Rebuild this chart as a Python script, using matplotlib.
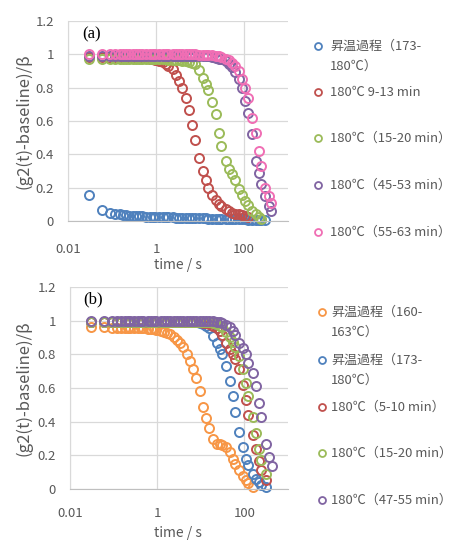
import matplotlib
matplotlib.use("Agg")
import matplotlib.pyplot as plt
from matplotlib.lines import Line2D
from matplotlib.ticker import NullLocator

plt.rcParams['font.family'] = ['Noto Sans CJK JP', 'DejaVu Sans']

# correlator lag times (s), shared by every series; each series uses the first len(y) of them
lag_s = [0.03, 0.06, 0.09, 0.12, 0.15, 0.18, 0.21, 0.24, 0.30, 0.36,
         0.42, 0.48, 0.60, 0.72, 0.84, 0.96, 1.2, 1.44, 1.68, 1.92,
         2.4, 2.88, 3.36, 3.84, 4.8, 5.76, 6.72, 7.68, 9.6, 11.5,
         13.4, 15.4, 19.2, 23.0, 26.9, 30.7, 38.4, 46.1, 53.8, 61.4,
         76.8, 92.2, 108, 123, 154, 184, 215, 246, 307, 369, 420]

x_ticks = [0.01, 1, 100]
x_tick_labels = ['0.01', '1', '100']
y_ticks = [0, 0.2, 0.4, 0.6, 0.8, 1.0, 1.2]
y_tick_labels = ['0', '0.2', '0.4', '0.6', '0.8', '1', '1.2']

# ---- panel (a)
a_labels = ['昇温過程（173-\n180℃）', '180℃ 9-13 min', '180℃（15-20 min）',
            '180℃（45-53 min）', '180℃（55-63 min）']
a_colors = ['#4F81BD', '#C0504D', '#9BBB59', '#8064A2', '#F06EB4']

a_ramp_173 = [0.155, 0.065, 0.05, 0.045, 0.04, 0.037, 0.035, 0.033, 0.031, 0.03,
              0.029, 0.028, 0.027, 0.026, 0.025, 0.025, 0.024, 0.023, 0.023, 0.022,
              0.022, 0.021, 0.02, 0.02, 0.019, 0.018, 0.018, 0.017, 0.017, 0.016,
              0.016, 0.015, 0.015, 0.014, 0.014, 0.013, 0.013, 0.012, 0.012, 0.011,
              0.011, 0.01, 0.01, 0.009, 0.008, 0.007, 0.006, 0.005, 0.004]
a_9_13 = [0.985, 0.985, 0.98, 0.98, 0.98, 0.98, 0.98, 0.98, 0.98, 0.98,
          0.98, 0.978, 0.977, 0.975, 0.972, 0.968, 0.962, 0.955, 0.945, 0.932,
          0.91, 0.875, 0.84, 0.80, 0.74, 0.665, 0.575, 0.485, 0.38, 0.30,
          0.245, 0.20, 0.155, 0.128, 0.105, 0.088, 0.07, 0.058, 0.05, 0.045,
          0.04, 0.035, 0.03, 0.027]
a_15_20 = [0.975, 0.975, 0.97, 0.97, 0.97, 0.97, 0.97, 0.97, 0.97, 0.97,
           0.97, 0.97, 0.97, 0.97, 0.97, 0.97, 0.97, 0.97, 0.97, 0.968,
           0.967, 0.966, 0.964, 0.962, 0.958, 0.953, 0.948, 0.94, 0.905, 0.86,
           0.82, 0.785, 0.715, 0.64, 0.53, 0.45, 0.36, 0.31, 0.28, 0.245,
           0.195, 0.155, 0.12, 0.095, 0.062, 0.04, 0.022, 0.01]
a_45_53 = [0.99, 0.99, 0.99, 0.99, 0.99, 0.99, 0.99, 0.99, 0.99, 0.99,
           0.99, 0.99, 0.99, 0.99, 0.99, 0.99, 0.99, 0.99, 0.99, 0.99,
           0.99, 0.99, 0.99, 0.99, 0.99, 0.99, 0.99, 0.99, 0.99, 0.99,
           0.99, 0.99, 0.985, 0.98, 0.975, 0.97, 0.96, 0.945, 0.925, 0.895,
           0.85, 0.80, 0.72, 0.65, 0.52, 0.36, 0.29, 0.22, 0.15, 0.09, 0.06]
a_55_63 = [1.0, 1.0, 1.0, 1.0, 1.0, 1.0, 1.0, 1.0, 1.0, 1.0,
           1.0, 1.0, 1.0, 1.0, 1.0, 1.0, 1.0, 1.0, 1.0, 1.0,
           1.0, 1.0, 1.0, 1.0, 1.0, 1.0, 1.0, 1.0, 0.998, 0.997,
           0.996, 0.995, 0.995, 0.99, 0.99, 0.985, 0.975, 0.965, 0.95, 0.93,
           0.90, 0.85, 0.80, 0.74, 0.62, 0.53, 0.42, 0.33, 0.20, 0.15, 0.11]

# ---- panel (b)
b_labels = ['昇温過程（160-\n163℃）', '昇温過程（173-\n180℃）', '180℃（5-10 min）',
            '180℃（15-20 min）', '180℃（47-55 min）']
b_colors = ['#F79646', '#4F81BD', '#C0504D', '#9BBB59', '#8064A2']

b_ramp_160 = [0.96, 0.96, 0.955, 0.955, 0.955, 0.955, 0.955, 0.955, 0.955, 0.955,
              0.955, 0.955, 0.953, 0.95, 0.948, 0.945, 0.94, 0.935, 0.928, 0.92,
              0.905, 0.885, 0.865, 0.845, 0.80, 0.76, 0.71, 0.66, 0.58, 0.49,
              0.42, 0.36, 0.30, 0.27, 0.265, 0.26, 0.25, 0.22, 0.18, 0.15,
              0.11, 0.08, 0.055, 0.035, 0.012]
b_ramp_173 = [0.99, 0.99, 0.99, 0.99, 0.99, 0.99, 0.99, 0.99, 0.99, 0.99,
              0.99, 0.99, 0.99, 0.99, 0.99, 0.99, 0.99, 0.99, 0.99, 0.99,
              0.99, 0.99, 0.99, 0.99, 0.99, 0.99, 0.99, 0.99, 0.985, 0.98,
              0.97, 0.955, 0.91, 0.87, 0.83, 0.80, 0.73, 0.64, 0.55, 0.46,
              0.34, 0.25, 0.18, 0.14, 0.09, 0.06, 0.04, 0.025, 0.012]
b_5_10 = [0.99, 0.99, 0.99, 0.99, 0.99, 0.99, 0.99, 0.99, 0.99, 0.99,
          0.99, 0.99, 0.99, 0.99, 0.99, 0.99, 0.99, 0.99, 0.99, 0.99,
          0.99, 0.99, 0.99, 0.99, 0.99, 0.99, 0.99, 0.99, 0.99, 0.988,
          0.985, 0.98, 0.97, 0.955, 0.94, 0.915, 0.87, 0.83, 0.80, 0.77,
          0.71, 0.62, 0.53, 0.44, 0.32, 0.235, 0.165, 0.11, 0.055]
b_15_20 = [0.99, 0.99, 0.99, 0.99, 0.99, 0.99, 0.99, 0.99, 0.99, 0.99,
           0.99, 0.99, 0.99, 0.99, 0.99, 0.99, 0.99, 0.99, 0.99, 0.99,
           0.99, 0.99, 0.99, 0.99, 0.99, 0.99, 0.99, 0.99, 0.99, 0.99,
           0.99, 0.99, 0.985, 0.98, 0.97, 0.96, 0.935, 0.905, 0.875, 0.845,
           0.79, 0.71, 0.63, 0.55, 0.43, 0.33, 0.24, 0.17, 0.09]
b_47_55 = [1.0, 1.0, 1.0, 1.0, 1.0, 1.0, 1.0, 1.0, 1.0, 1.0,
           1.0, 1.0, 1.0, 1.0, 1.0, 1.0, 1.0, 1.0, 1.0, 1.0,
           1.0, 1.0, 1.0, 1.0, 1.0, 1.0, 1.0, 1.0, 1.0, 1.0,
           1.0, 1.0, 0.998, 0.995, 0.99, 0.985, 0.975, 0.96, 0.94, 0.915,
           0.87, 0.84, 0.80, 0.75, 0.69, 0.61, 0.51, 0.43, 0.27, 0.19, 0.135]

a_series = [a_ramp_173, a_9_13, a_15_20, a_45_53, a_55_63]
b_series = [b_ramp_160, b_ramp_173, b_5_10, b_15_20, b_47_55]

W, H = 454, 541
fig = plt.figure(figsize=(W / 100, H / 100), dpi=100)
text_gray = '#595959'


def px(x, y):
    # pixel position (from top-left) -> figure fraction
    return x / W, 1 - y / H


def style_axis(ax, xpad):
    ax.set_xscale('log')
    ax.set_xlim(0.01, 1000)
    ax.set_ylim(0, 1.2)
    ax.set_xticks(x_ticks, x_tick_labels)
    ax.xaxis.set_minor_locator(NullLocator())
    ax.set_yticks(y_ticks, y_tick_labels)
    ax.grid(True, color='#D9D9D9', lw=0.9)
    ax.set_axisbelow(True)
    for s in ['top', 'right']:
        ax.spines[s].set_visible(False)
    ax.spines['left'].set_color('#D9D9D9')
    ax.spines['bottom'].set_color('#BFBFBF')
    ax.tick_params(length=0, colors=text_gray, labelsize=9.5)
    ax.tick_params(axis='x', pad=xpad)
    ax.tick_params(axis='y', pad=10)


def draw_series(ax, series, colors):
    for y, c in zip(series, colors):
        ax.plot(lag_s[:len(y)], y, ls='none', marker='o', mfc='none', mec=c,
                ms=6.5, mew=1.4, clip_on=False)


def draw_key(labels, colors, rows, mark_x, text_x):
    # legend column on the right: one marker + label per entry
    for lab, c, yrow in zip(labels, colors, rows):
        mx, my = px(mark_x, yrow)
        fig.add_artist(Line2D([mx], [my], transform=fig.transFigure, ls='none',
                              marker='o', mfc='none', mec=c, ms=5, mew=1.3))
        for k, line in enumerate(lab.split('\n')):
            tx, ty = px(text_x, yrow + k * 20)
            fig.text(tx, ty, line, ha='left', va='center', fontsize=9.4, color=text_gray)


ax_a = fig.add_axes([68 / W, 1 - 221 / H, 220 / W, 200 / H])
style_axis(ax_a, 16)
draw_series(ax_a, a_series, a_colors)

ax_b = fig.add_axes([70 / W, 1 - 489 / H, 218 / W, 202 / H])
style_axis(ax_b, 13)
draw_series(ax_b, b_series, b_colors)

for yc, yl in [(121, 265), (388, 533)]:
    fig.text(*px(24, yc), '(g2(t)-baseline)/β', rotation=90, ha='center', va='center',
             fontsize=12, color=text_gray)
    fig.text(*px(178, yl), 'time / s', ha='center', va='center', fontsize=10, color=text_gray)

fig.text(*px(82, 34), '(a)', family='Liberation Serif', fontsize=12, ha='left', va='center')
fig.text(*px(83, 299), '(b)', family='Liberation Serif', fontsize=12, ha='left', va='center')

draw_key(a_labels, a_colors, [46, 92, 138, 185, 232], 318, 330)
draw_key(b_labels, b_colors, [312, 360, 407, 453, 500], 322, 331)

fig.savefig('out.png', dpi=100)
